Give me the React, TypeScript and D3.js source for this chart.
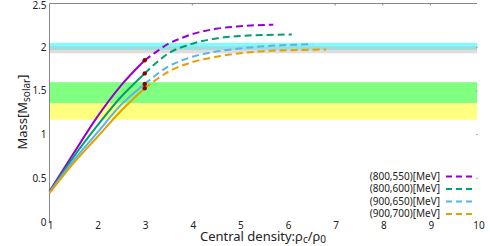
import React from "react";
import * as d3 from "d3";

const labels = ["(800,550)[MeV]", "(800,600)[MeV]", "(900,650)[MeV]", "(900,700)[MeV]"];
const colors = ["#9400D3", "#009E73", "#56B4E9", "#E69F00"];

const solidRho = [1, 1.5, 2, 2.5, 3];
const solidMass = [
  [0.35, 0.78, 1.2, 1.56, 1.85],
  [0.34, 0.74, 1.1, 1.43, 1.7],
  [0.34, 0.7, 1.02, 1.34, 1.58],
  [0.33, 0.67, 0.97, 1.27, 1.53],
];

const dashRho = [
  [3, 3.25, 3.5, 3.75, 4, 4.5, 5, 5.5, 5.7],
  [3, 3.5, 4, 4.5, 5, 5.5, 6.09],
  [3, 3.5, 4, 4.5, 5, 5.5, 6, 6.52],
  [3, 3.5, 4, 4.5, 5, 5.5, 6, 6.81],
];
const dashMass = [
  [1.85, 1.95, 2.04, 2.1, 2.15, 2.21, 2.24, 2.255, 2.258],
  [1.7, 1.93, 2.04, 2.1, 2.128, 2.14, 2.145],
  [1.58, 1.78, 1.89, 1.95, 1.985, 2.01, 2.025, 2.035],
  [1.53, 1.72, 1.83, 1.89, 1.93, 1.955, 1.965, 1.975],
];

const xTicks = [1, 2, 3, 4, 5, 6, 7, 8, 9, 10];
const yTicks = [0, 0.5, 1, 1.5, 2, 2.5];
const topTicks = [4, 7, 8, 9];

// bands: [low, high]
const yellowBand = [1.17, 1.36];
const greenBand = [1.36, 1.6];
const cyanBand = [1.97, 2.05];
const grayBand = [1.93, 2.01];

export default function App() {
  const W = 490, H = 246;
  const x = d3.scaleLinear().domain([1, 10]).range([49.5, 478]);
  const y = d3.scaleLinear().domain([0, 2.5]).range([222, 3.5]);
  const line = d3
    .line<[number, number]>()
    .x((d) => x(d[0]))
    .y((d) => y(d[1]))
    .curve(d3.curveMonotoneX);
  const font = "'Noto Sans', 'Liberation Sans', sans-serif";
  const txt = "#222";
  const axis = "#888";
  const band = (b: number[], fill: string, op = 1) => (
    <rect x={x(1)} width={x(10) - x(1) - 1} y={y(b[1])} height={y(b[0]) - y(b[1])} fill={fill} opacity={op} />
  );
  return (
    <svg width={W} height={H} style={{ position: "absolute", left: 0, top: 0 }} fontFamily={font}>
      <rect width={W} height={H} fill="white" />
      {band(yellowBand, "#ffff80")}
      {band(greenBand, "#80ff80")}
      {band(cyanBand, "#7ffcff")}
      {band(grayBand, "#bebebe", 0.52)}
      {/* frame */}
      <line x1={x(1)} x2={x(1)} y1={y(2.5)} y2={y(0)} stroke={axis} />
      <line x1={x(1)} x2={477} y1={y(2.5)} y2={y(2.5)} stroke={axis} />
      {topTicks.map((t) => (
        <line key={t} x1={x(t)} x2={x(t)} y1={y(2.5)} y2={y(2.5) + 2} stroke={axis} />
      ))}
      {yTicks.slice(1, 5).map((t) => (
        <line key={t} x1={476} x2={478} y1={y(t)} y2={y(t)} stroke={axis} opacity={0.7} />
      ))}
      {/* curves */}
      {solidMass.map((m, i) => (
        <path key={"s" + i} d={line(solidRho.map((r, j) => [r, m[j]]) as [number, number][]) || ""} fill="none" stroke={colors[i]} strokeWidth={2} />
      ))}
      {dashMass.map((m, i) => (
        <path key={"d" + i} d={line(dashRho[i].map((r, j) => [r, m[j]]) as [number, number][]) || ""} fill="none" stroke={colors[i]} strokeWidth={2} strokeDasharray="7,4" />
      ))}
      {solidMass.map((m, i) => (
        <circle key={"c" + i} cx={x(3)} cy={y(m[m.length - 1])} r={2.2} fill="#8b0000" />
      ))}
      {/* tick labels */}
      {yTicks.map((t) => (
        <text key={t} x={46.5} y={t === 2.5 ? y(t) + 2 : y(t)} dy="0.35em" textAnchor="end" fontSize={10} fill={txt}>
          {t}
        </text>
      ))}
      {xTicks.map((t) => (
        <text key={t} x={x(t) + 1} y={229} textAnchor="middle" fontSize={10} fill={txt}>
          {t}
        </text>
      ))}
      {/* axis labels */}
      <text x={263} y={240.5} textAnchor="middle" fontSize={13} fill={txt}>
        Central density:ρ<tspan dy="2.5" fontSize={10}>c</tspan>
        <tspan dy="-2.5">/ρ</tspan>
        <tspan dy="2.5" fontSize={10}>0</tspan>
      </text>
      <text transform={`translate(27,112) rotate(-90)`} textAnchor="middle" fontSize={13} fill={txt}>
        Mass[M<tspan dy="3" fontSize={10}>solar</tspan>
        <tspan dy="-3">]</tspan>
      </text>
      {/* legend */}
      {labels.map((l, i) => (
        <g key={l}>
          <text x={440} y={176.2 + i * 12.5} dy="0.35em" textAnchor="end" fontSize={10} fill={txt}>
            {l}
          </text>
          <line x1={446} x2={472} y1={176.5 + i * 12.5} y2={176.5 + i * 12.5} stroke={colors[i]} strokeWidth={2} strokeDasharray="6,4" />
        </g>
      ))}
    </svg>
  );
}
